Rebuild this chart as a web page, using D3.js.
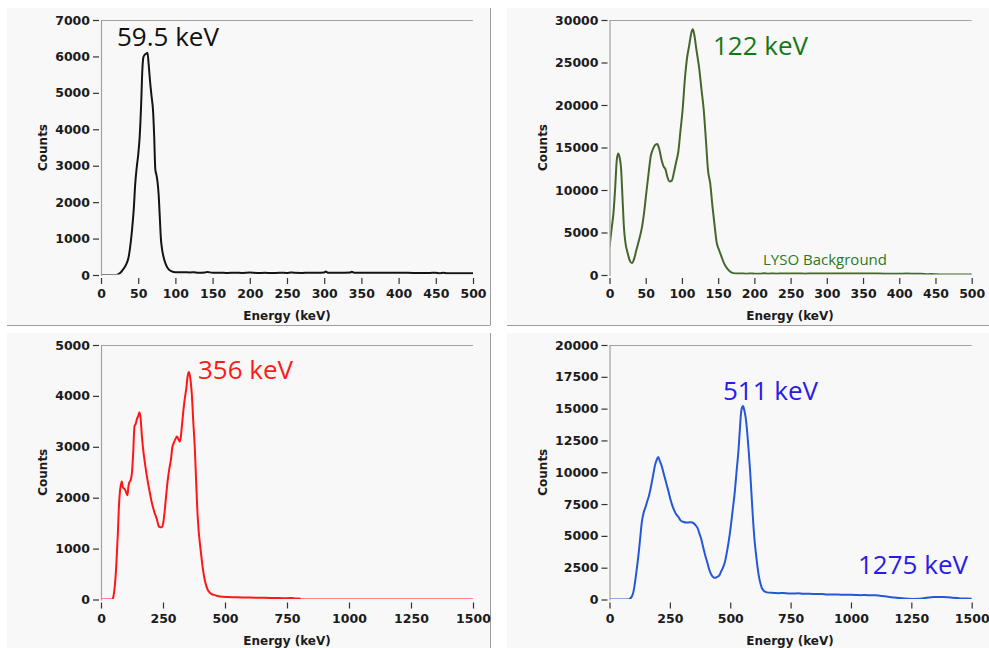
<!DOCTYPE html>
<html><head><meta charset="utf-8">
<script src="https://cdn.jsdelivr.net/npm/d3@7"></script>
<style>
html,body{margin:0;padding:0;background:#fff;}
svg{display:block;}
</style></head>
<body>
<svg id="c" width="989" height="648"></svg>
<script>
// ---------- DATA ----------
// Panel 1: Am-241 (59.5 keV)
const energyA = [0,20,22,26,30,34,37,40,42,44,46,48,50,52,54,55.5,57,59,61,62.5,64,66,68,70,71.5,73,74.5,76,77.5,79,80.5,82,84,87,90,95,100,110,120,125,130,140,143,150,160,170,180,190,200,210,220,230,240,250,255,260,270,280,290,300,302,305,320,335,337,340,350,360,380,400,420,440,450,455,460,465,470,480,490,500];
const countsA = [0,0,10,60,160,300,480,900,1300,1800,2500,2950,3300,3800,4700,5600,5980,6050,6080,6100,5800,5300,4900,4500,3800,2900,2750,2550,2200,1600,1000,720,500,300,180,100,75,75,70,78,65,70,85,60,65,55,62,58,66,55,60,52,62,55,72,60,58,64,60,70,95,65,62,68,90,65,60,62,60,62,58,55,65,48,62,45,50,48,50,48];

// Panel 2: Co-57 (122 keV) + LYSO background
const energyB = [0,3,5.5,8,10,12,14,16,18,20,22,25,28,31,34,37,41,45,48,51,54,57,60,63,66,69,72,75,77,80,83,86,89,92,95,98,101,104,107,110,113,115,117,120,124,127,130,133,136,139,142,145,148,151,154,158,162,166,170,175,185,190,195,200,210,212,220,225,230,240,250,260,270,280,290,300,320,340,360,380,400,410,420,430,440,445,450,460,480,500];
const countsB = [3300,5500,7300,10500,13500,14300,13800,12500,9000,5500,3800,2600,1700,1400,1900,2900,4200,5700,7500,9800,12000,14000,14800,15300,15400,14700,13500,12700,12500,11500,11000,11100,12100,13300,14500,17000,19500,23000,25500,27000,28500,28900,28300,26500,24200,21800,19500,16000,12300,10800,8200,5900,3800,3000,2300,1400,800,450,250,180,170,140,190,150,160,200,150,190,160,170,165,180,160,190,170,175,170,168,165,160,150,170,150,140,90,120,80,70,60,55];

// Panel 3: Ba-133 (356 keV)
const energyC = [0,45,50,56,62,68,72,76,80,84,88,93,98,103,107,110,114,120,125,130,135,140,145,150,155,160,165,170,178,185,195,205,215,225,232,238,245,250,256,262,268,275,282,288,294,300,306,312,318,322,327,332,338,344,350,355,360,366,372,378,383,388,393,400,407,414,421,428,436,445,455,470,490,510,540,570,600,630,660,690,720,750,770,780,800,805,1500];
const countsC = [0,0,60,280,700,1300,1800,2100,2250,2320,2200,2180,2150,2080,2050,2200,2300,2350,2500,2900,3400,3450,3550,3600,3680,3550,3200,2950,2650,2420,2150,1900,1720,1580,1450,1420,1420,1480,1700,2000,2300,2550,2750,3000,3080,3150,3200,3150,3100,3200,3450,3700,3950,4150,4400,4470,4350,4050,3500,3000,2400,1800,1400,1050,750,500,330,220,150,110,90,70,55,50,45,40,38,35,32,30,28,25,30,20,20,0,0];

// Panel 4: Na-22 (511 keV, 1275 keV)
const energyD = [0,78,85,92,99,106,113,120,127,134,141,148,156,164,170,176,182,189,196,202,208,216,223,230,237,244,252,260,268,276,285,295,306,316,327,338,348,356,364,372,380,388,396,405,414,422,430,437,446,455,462,470,478,486,494,502,510,518,526,534,540,545,549,553,558,564,570,576,582,588,594,600,606,612,618,624,630,638,646,660,680,700,720,740,760,780,800,830,860,880,900,930,960,990,1020,1040,1060,1080,1100,1120,1140,1160,1180,1200,1220,1240,1260,1280,1300,1320,1340,1360,1380,1400,1420,1440,1460,1480,1500];
const countsD = [0,0,80,210,600,1390,2400,3500,4800,6100,6800,7200,7700,8200,8700,9300,9900,10600,11000,11200,10900,10500,10000,9500,9000,8500,7900,7400,7000,6700,6500,6200,6100,6050,6060,6080,6000,5850,5650,5200,4750,4100,3500,2900,2300,1950,1750,1700,1780,1900,2200,2500,2950,3700,4600,5700,7000,8300,10000,11700,13400,14700,15100,15200,14900,14300,13200,11800,10200,8300,6400,4800,3700,2700,1900,1350,950,700,600,540,520,500,510,480,470,490,460,450,430,440,400,390,380,370,360,340,350,330,340,300,250,200,150,110,80,50,40,50,100,150,190,200,190,170,140,110,80,80,60];

// Axis ticks
const ticksY1 = [0,1000,2000,3000,4000,5000,6000,7000];
const ticksY2 = [0,5000,10000,15000,20000,25000,30000];
const ticksY3 = [0,1000,2000,3000,4000,5000];
const ticksY4 = [0,2500,5000,7500,10000,12500,15000,17500,20000];
const ticksX500 = [0,50,100,150,200,250,300,350,400,450,500];
const ticksX1500 = [0,250,500,750,1000,1250,1500];

// Labels
const xTitle = "Energy (keV)";
const yTitle = "Counts";

// ---------- LAYOUT ----------
const svg = d3.select("#c");
const panels = [
  {bg:[7,8,483,317], plot:[101,473,20,275], yt:47, xt:287,
   e:energyA, c:countsA, ymax:7000, xmax:500, ty:ticksY1, tx:ticksX500, color:"#141414",
   notes:[{t:"59.5 keV", x:117, y:46, s:26, col:"#111"}]},
  {bg:[507,8,490,317], plot:[609.5,971.7,20,275], yt:547, xt:790,
   e:energyB, c:countsB, ymax:30000, xmax:500, ty:ticksY2, tx:ticksX500, color:"#45672b",
   notes:[{t:"122 keV", x:713, y:55, s:26, col:"#167716"},
          {t:"LYSO Background", x:763, y:265, s:15, col:"#2a7a22"}]},
  {bg:[7,333,483,320], plot:[101,473,345,599.5], yt:47, xt:287,
   e:energyC, c:countsC, ymax:5000, xmax:1500, ty:ticksY3, tx:ticksX1500, color:"#ff1616",
   notes:[{t:"356 keV", x:198, y:379, s:26, col:"#ff1a1a"}]},
  {bg:[507,333,490,320], plot:[609.5,971.7,345,599.5], yt:547, xt:790,
   e:energyD, c:countsD, ymax:20000, xmax:1500, ty:ticksY4, tx:ticksX1500, color:"#2458d8",
   notes:[{t:"511 keV", x:723, y:400, s:26, col:"#2a1be6"},
          {t:"1275 keV", x:858, y:574, s:26, col:"#2a1be6"}]}
];

const tickFont = "DejaVu Sans, sans-serif";
const noteFont = "'Open Sans', 'Noto Sans', sans-serif";

panels.forEach((p, i) => {
  const [bx, by, bw, bh] = p.bg;
  const [L, R, T, B] = p.plot;
  const g = svg.append("g");
  // panel background with right/bottom border
  g.append("rect").attr("x", bx).attr("y", by).attr("width", bw).attr("height", bh).attr("fill", "#f8f8f8");
  g.append("line").attr("x1", bx + bw + 0.5).attr("x2", bx + bw + 0.5).attr("y1", by).attr("y2", by + bh)
    .attr("stroke", "#9c9c9c").attr("stroke-width", 1);
  g.append("line").attr("x1", bx).attr("x2", bx + bw + 0.5).attr("y1", by + bh + 0.5).attr("y2", by + bh + 0.5)
    .attr("stroke", "#9c9c9c").attr("stroke-width", 1);

  const x = d3.scaleLinear().domain([0, p.xmax]).range([L, R]);
  const y = d3.scaleLinear().domain([0, p.ymax]).range([B, T]);

  // plot frame: top border + left axis line
  g.append("line").attr("x1", L).attr("x2", R).attr("y1", T + 0.5).attr("y2", T + 0.5)
    .attr("stroke", "#a2a2a2").attr("stroke-width", 1.2);
  g.append("line").attr("x1", L + 0.5).attr("x2", L + 0.5).attr("y1", T).attr("y2", B + 1)
    .attr("stroke", "#a2a2a2").attr("stroke-width", 1.2);

  // clip (zero-level line partially hidden, appears lighter as in the original)
  const cid = "clip" + i;
  svg.append("defs").append("clipPath").attr("id", cid)
    .append("rect").attr("x", L + 1).attr("y", T).attr("width", R - L).attr("height", B - T - 0.4);

  const line = d3.line().x((d, j) => x(p.e[j])).y((d, j) => y(p.c[j])).curve(d3.curveMonotoneX);
  g.append("path").attr("clip-path", `url(#${cid})`).datum(p.c)
    .attr("d", line).attr("fill", "none").attr("stroke", p.color).attr("stroke-width", 2)
    .attr("stroke-linejoin", "round");

  // Y axis
  const ya = g.append("g").attr("transform", `translate(${L - 2},0)`)
    .call(d3.axisLeft(y).tickValues(p.ty).tickSize(6).tickPadding(3).tickFormat(d3.format("d")));
  ya.select(".domain").remove();
  ya.selectAll(".tick line").attr("stroke", "#333").attr("stroke-width", 1.2);
  ya.selectAll(".tick text").attr("fill", "#1b1b1b").attr("font-family", tickFont)
    .attr("font-weight", "bold").attr("font-size", "12.5px");

  // X axis
  const xa = g.append("g").attr("transform", `translate(0,${B + 3})`)
    .call(d3.axisBottom(x).tickValues(p.tx).tickSize(6).tickFormat(d3.format("d")));
  xa.select(".domain").remove();
  xa.selectAll(".tick line").attr("stroke", "#333").attr("stroke-width", 1.2);
  xa.selectAll(".tick text").attr("fill", "#1b1b1b").attr("font-family", tickFont)
    .attr("font-weight", "bold").attr("font-size", "12.5px").attr("dy", null).attr("y", 20);

  // Titles
  g.append("text").attr("x", p.xt).attr("y", B + 45).attr("text-anchor", "middle")
    .attr("font-family", tickFont).attr("font-weight", "bold").attr("font-size", "12px")
    .attr("fill", "#1b1b1b").text(xTitle);
  g.append("text").attr("transform", `translate(${p.yt},${(T + B) / 2}) rotate(-90)`)
    .attr("text-anchor", "middle").attr("font-family", tickFont).attr("font-weight", "bold")
    .attr("font-size", "12px").attr("fill", "#1b1b1b").text(yTitle);

  // Annotations
  p.notes.forEach(n => {
    g.append("text").attr("x", n.x).attr("y", n.y).attr("font-family", noteFont)
      .attr("font-size", n.s + "px").attr("fill", n.col).text(n.t);
  });
});
</script>
</body></html>
